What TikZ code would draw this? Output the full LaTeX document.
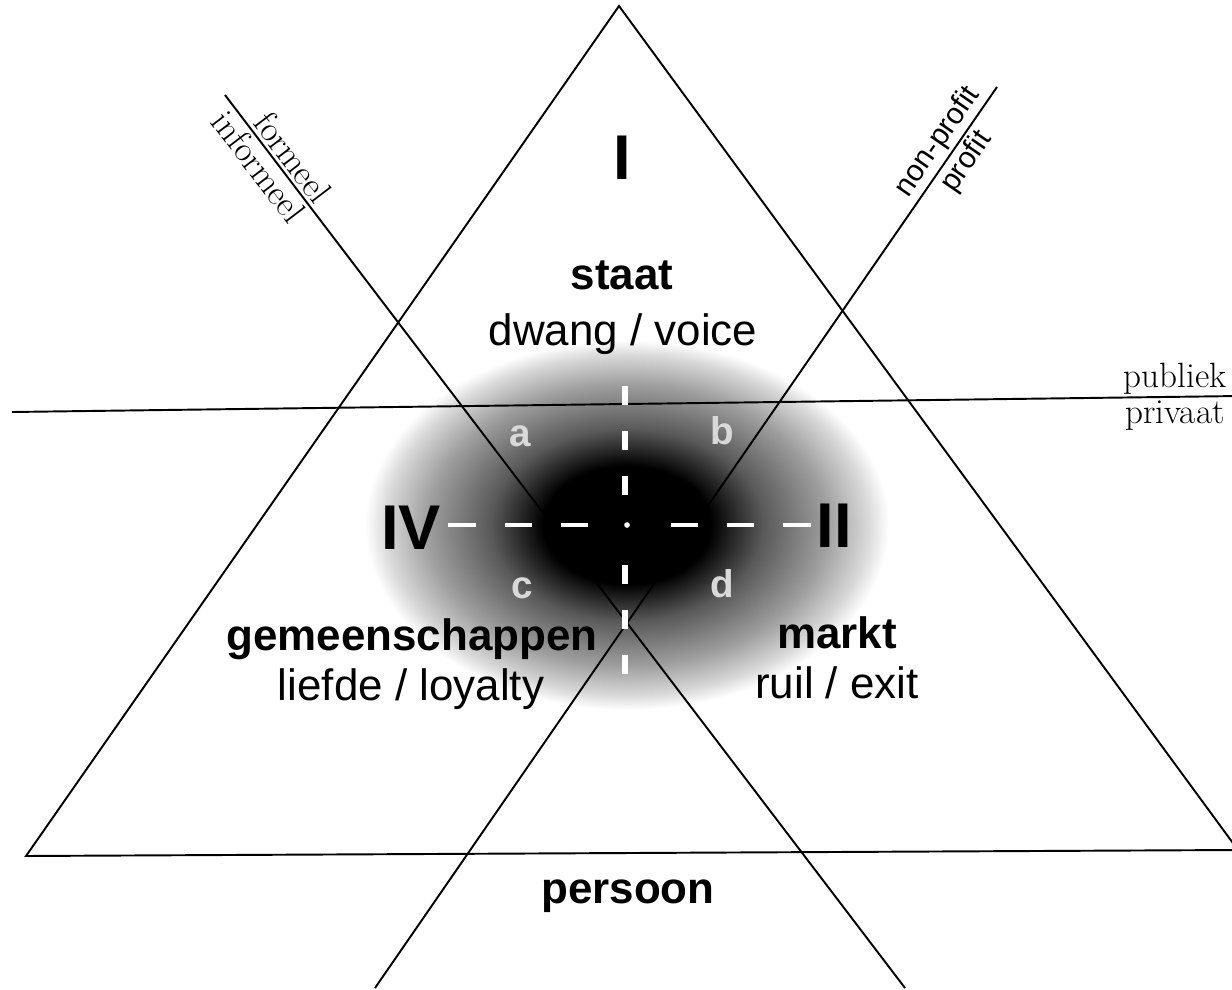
\documentclass[tikz,border=0pt]{standalone}
\usepackage{fontspec}
\setsansfont{Liberation Sans}
\usetikzlibrary{calc}

% zwarte vlek in het midden
\pgfdeclareradialshading{vlek}{\pgfpoint{0bp}{0bp}}{%
  color(0bp)=(black); color(8bp)=(black); color(13bp)=(black!65);
  color(19bp)=(black!38); color(23bp)=(black!15); color(25bp)=(white);
  color(50bp)=(white)}

\begin{document}
\begin{tikzpicture}[x=0.02cm, y=-0.02cm,
    lijn/.style={line width=1.1pt},
    vet/.style={font=\sffamily\bfseries\fontsize{25}{30}\selectfont, inner sep=0pt},
    gewoon/.style={font=\sffamily\fontsize{25}{30}\selectfont, inner sep=0pt},
    cijfer/.style={font=\sffamily\bfseries\fontsize{36}{40}\selectfont, inner sep=0pt},
    letter/.style={font=\sffamily\bfseries\fontsize{22}{26}\selectfont, text=white!85!black, inner sep=0pt},
    grens/.style={font=\rmfamily\fontsize{20}{23}\selectfont, inner sep=2pt},
    grenssans/.style={font=\sffamily\fontsize{17}{20}\selectfont, inner sep=2pt},
    streeph/.style={white, line width=2.8pt, dash pattern=on 15.5pt off 16.5pt},
    streepv/.style={white, line width=3.2pt, dash pattern=on 11pt off 14.5pt}]

    \useasboundingbox (0,0) rectangle (1232,990);
    \clip (0,0) rectangle (1232,990);

    % hoekpunten en eindpunten van de lijnen
    \coordinate (top) at (619,6);
    \coordinate (links) at (26,856);
    \coordinate (rechts) at (1238,850);
    \coordinate (fA) at (225,95);
    \coordinate (fB) at (905,988);
    \coordinate (npA) at (375,988);
    \coordinate (npB) at (997,87);
    \coordinate (pA) at (12,412);
    \coordinate (pB) at (1240,396);
    \coordinate (ctr) at (627,525);

    \shade[shading=vlek] (ctr) ellipse (262 and 185);

    % driehoek en scheidingslijnen
    \draw[lijn] (links) -- (top) -- (rechts) -- cycle;
    \draw[lijn] (fA) -- (fB);
    \draw[lijn] (npA) -- (npB);
    \draw[lijn] (pA) -- (pB);

    % grenzen
    \path (fA) -- (fB)
        node[grens, pos=0.13, sloped, anchor=south east] (formeel) {formeel}
        node[grens, pos=0.13, sloped, anchor=north east] (informeel) {informeel};
    \path (npA) -- (npB)
        node[grenssans, pos=0.928, sloped, above] (nonprofit) {non-profit}
        node[grenssans, pos=0.928, sloped, below] (profit) {profit};
    \node[grens, inner sep=0pt, anchor=base east] (publiek) at (1227,387) {publiek};
    \node[grens, inner sep=0pt, anchor=base east] (privaat) at (1225,423) {privaat};

    % sectoren
    \node[cijfer, anchor=base] (I) at (622,180) {I};
    \node[vet, anchor=base] (staat) at (622,290) {staat};
    \node[gewoon, anchor=base] (dwang) at (623,345) {dwang / voice};

    \node[cijfer, anchor=base] (IV) at (411,549) {IV};
    \node[cijfer, anchor=base] (II) at (834,547) {II};

    \node[vet, anchor=base] (gem) at (412,650) {gemeenschappen};
    \node[gewoon, anchor=base] (liefde) at (411,700) {liefde / loyalty};
    \node[vet, anchor=base] (markt) at (837,648) {markt};
    \node[gewoon, anchor=base] (ruil) at (837,698) {ruil / exit};
    \node[vet, anchor=base] (persoon) at (628,903) {persoon};

    % letters rond het midden
    \node[letter, anchor=base] (a) at (520,446) {a};
    \node[letter, anchor=base] (b) at (722,444) {b};
    \node[letter, anchor=base] (c) at (522,598) {c};
    \node[letter, anchor=base] (d) at (722,597) {d};

    % witte streepjes
    \coordinate (hL) at (588,525);
    \coordinate (hR) at (671,525);
    \coordinate (vB) at (625,495);
    \coordinate (vO) at (625,565);
    \coordinate (boven) at (625,385);
    \coordinate (onder) at (625,680);
    \draw[streeph] (hL) -- (IV.east |- hL);
    \draw[streeph] (hR) -- (II.west |- hR);
    \draw[streepv] (vB) -- (boven);
    \draw[streepv] (vO) -- (onder);
    \fill[white] (ctr) circle (1.6pt);

\end{tikzpicture}
\end{document}
